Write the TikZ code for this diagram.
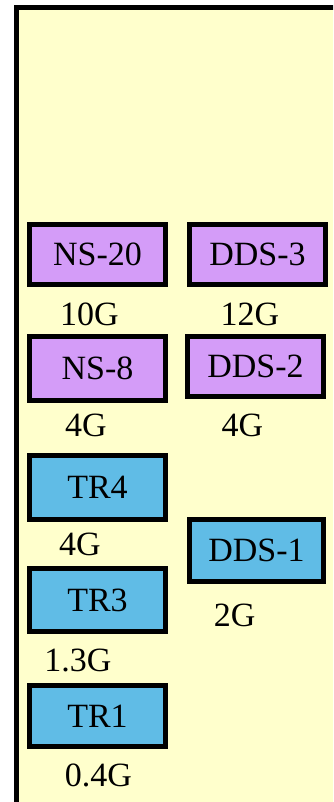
\documentclass[tikz,border=0pt]{standalone}
\usepackage{fontspec}
\setmainfont{Liberation Serif}
\definecolor{bgyellow}{HTML}{FFFFCC}
\definecolor{boxpurple}{HTML}{D49CF8}
\definecolor{boxblue}{HTML}{60BCE6}
\tikzset{
  unit/.style={draw=black, line width=5pt, minimum width=136pt, inner sep=0pt,
    font=\fontsize{34}{40}\selectfont},
  purpleunit/.style={unit, fill=boxpurple},
  blueunit/.style={unit, fill=boxblue},
  size/.style={anchor=base, inner sep=0pt, font=\fontsize{34}{40}\selectfont}
}
\begin{document}
\begin{tikzpicture}[x=1pt,y=-1pt]
\useasboundingbox (0,0) rectangle (333,802);
\fill[white] (0,0) rectangle (333,802);
\begin{scope}
\clip (0,0) rectangle (333,802);
\draw[line width=5pt, fill=bgyellow] (16.5,7.5) rectangle (345,815);
\end{scope}
\node[purpleunit, minimum height=60pt] (ns20) at (97.5,254.5) {NS-20};
\node[purpleunit, minimum height=60pt] (dds3) at (257.5,254.5) {DDS-3};
\node[purpleunit, minimum height=64pt] (ns8) at (97.5,368.5) {NS-8};
\node[purpleunit, minimum height=60pt] (dds2) at (255.5,366.5) {DDS-2};
\node[blueunit, minimum height=64pt] (tr4) at (97.5,487.5) {TR4};
\node[blueunit, minimum height=62pt, minimum width=134pt] (dds1) at (256.5,550.5) {DDS-1};
\node[blueunit, minimum height=63pt] (tr3) at (97.5,600) {TR3};
\node[blueunit, minimum height=61pt] (tr1) at (97.5,716) {TR1};
\node[size] (l10) at (89.5,325) {10G};
\node[size] (l12) at (250,325) {12G};
\node[size] (l4a) at (86,436.5) {4G};
\node[size] (l4b) at (242.5,436.5) {4G};
\node[size] (l4c) at (80,555) {4G};
\node[size] (l2) at (234.7,626.5) {2G};
\node[size] (l13) at (78,671.5) {1.3G};
\node[size] (l04) at (98.3,786.5) {0.4G};
\end{tikzpicture}
\end{document}
